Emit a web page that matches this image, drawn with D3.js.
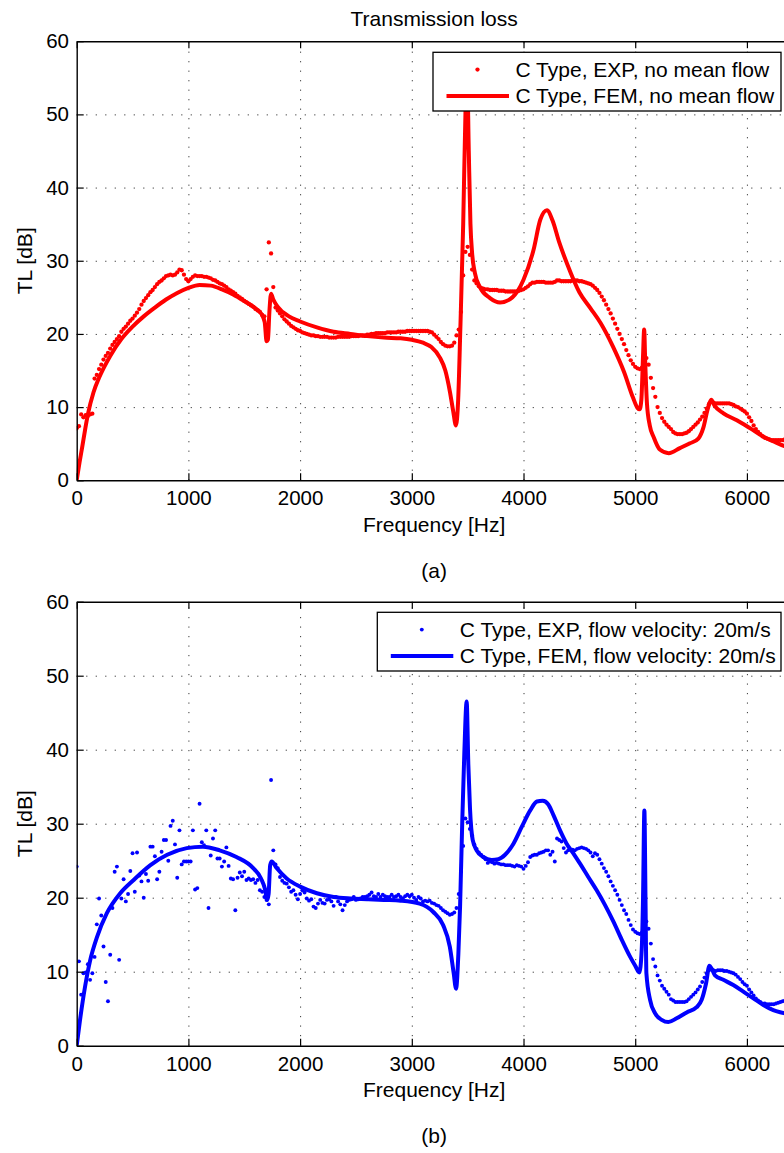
<!DOCTYPE html>
<html>
<head>
<meta charset="utf-8">
<script src="https://cdn.jsdelivr.net/npm/d3@7"></script>
<style>
  html, body { margin: 0; padding: 0; background: #fff; }
  svg { display: block; font-family: "Liberation Sans", Arial, Helvetica, sans-serif; }
</style>
</head>
<body>
<svg id="chart" width="784" height="1153"></svg>
<script>
// ---- axis ticks ----
const freqTicks = [0, 1000, 2000, 3000, 4000, 5000, 6000];
const tlTicks = [0, 10, 20, 30, 40, 50, 60];
const freqMax = 6400;

// ---- measured TL, one value per frequency bin (bin width expStep Hz, starting at 0 Hz) ----
const expStep = 20;
const expNoFlow = [
  7.1, 7.4, 9.0, 8.6, 8.9, 8.8, 9.0, 9.1, 13.9, 14.4,
  15.2, 15.8, 16.5, 17.0, 17.4, 18.0, 18.5, 18.9, 19.3, 19.7,
  20.3, 20.7, 21.0, 21.4, 21.8, 22.1, 22.5, 22.9, 23.4, 24.0,
  24.5, 24.9, 25.3, 25.7, 26.0, 26.4, 26.8, 27.1, 27.3, 27.6,
  27.9, 28.0, 28.1, 28.0, 28.1, 28.4, 28.8, 28.7, 28.1, 27.5,
  27.2, 27.5, 27.8, 28.0, 27.9, 27.9, 27.9, 27.8, 27.8, 27.7,
  27.6, 27.4, 27.3, 27.1, 26.9, 26.8, 26.6, 26.4, 26.1, 25.9,
  25.7, 25.5, 25.2, 25.0, 24.8, 24.5, 24.3, 24.1, 23.9, 23.7,
  23.4, 23.2, 23.0, 22.6, 22.4, 26.1, 32.5, 31.0, 26.4, 23.6,
  23.2, 22.8, 22.4, 22.0, 21.7, 21.4, 21.1, 20.9, 20.7, 20.5,
  20.4, 20.2, 20.1, 20.0, 19.9, 19.8, 19.8, 19.7, 19.7, 19.6,
  19.6, 19.6, 19.6, 19.5, 19.5, 19.5, 19.5, 19.6, 19.6, 19.6,
  19.6, 19.6, 19.6, 19.7, 19.7, 19.7, 19.7, 19.8, 19.8, 19.8,
  19.9, 19.9, 20.0, 20.0, 20.1, 20.1, 20.1, 20.1, 20.1, 20.2,
  20.2, 20.2, 20.2, 20.2, 20.3, 20.3, 20.3, 20.3, 20.4, 20.4,
  20.4, 20.4, 20.4, 20.4, 20.4, 20.4, 20.4, 20.4, 20.3, 20.2,
  19.9, 19.6, 19.3, 18.9, 18.6, 18.4, 18.3, 18.3, 18.4, 18.8,
  19.8, 20.6, 23.0, 28.0, 31.2, 31.9, 30.8, 28.8, 27.3, 26.9,
  26.5, 26.3, 26.2, 26.1, 26.1, 26.0, 26.0, 26.0, 26.0, 25.9,
  25.9, 25.9, 25.8, 25.8, 25.8, 25.8, 25.8, 25.8, 25.9, 26.0,
  26.1, 26.3, 26.5, 26.8, 27.0, 27.0, 27.1, 27.1, 27.1, 27.1,
  27.0, 27.0, 27.0, 27.0, 27.1, 27.3, 27.3, 27.2, 27.2, 27.2,
  27.2, 27.2, 27.3, 27.3, 27.3, 27.2, 27.2, 27.1, 27.0, 26.9,
  26.8, 26.6, 26.3, 26.0, 25.6, 25.1, 24.6, 24.0, 23.4, 22.8,
  22.1, 21.4, 20.7, 20.0, 19.3, 18.6, 17.8, 17.1, 16.4, 15.9,
  15.5, 15.3, 15.2, 15.4, 15.8, 16.7, 15.8, 14.0, 12.6, 11.4,
  10.0, 9.2, 8.5, 8.0, 7.6, 7.3, 7.0, 6.6, 6.4, 6.3,
  6.3, 6.3, 6.4, 6.5, 6.7, 7.0, 7.3, 7.6, 7.9, 8.3,
  8.7, 9.2, 9.8, 10.4, 10.7, 10.6, 10.5, 10.5, 10.5, 10.5,
  10.5, 10.5, 10.5, 10.4, 10.3, 10.1, 10.0, 9.8, 9.6, 9.4,
  9.1, 8.6, 8.1, 7.5, 7.0, 6.6, 6.3, 6.0, 5.8, 5.7,
  5.6, 5.5, 5.5, 5.5, 5.5, 5.5, 5.5, 5.6, 5.7, 5.8,
  5.9
];
const expFlow20 = [
  24.2, 11.4, 6.9, 9.8, 9.9, 11.0, 8.9, 9.8, 12.0, 16.4,
  19.9, 17.6, 13.4, 8.6, 6.0, 12.3, 18.6, 23.5, 24.2, 11.6,
  19.9, 22.5, 19.5, 20.5, 23.6, 26.0, 20.8, 26.1, 23.0, 22.2,
  20.0, 23.2, 22.3, 26.9, 26.9, 25.6, 22.5, 23.5, 26.2, 27.8,
  27.8, 25.0, 29.7, 30.4, 27.2, 22.7, 29.1, 24.5, 24.9, 24.9,
  24.9, 24.9, 29.1, 21.1, 21.3, 32.7, 27.5, 27.1, 29.1, 18.6,
  25.7, 28.0, 29.1, 25.3, 25.3, 24.2, 24.9, 26.8, 24.3, 22.6,
  22.5, 18.3, 22.7, 23.4, 22.9, 23.5, 22.4, 22.6, 22.4, 22.5,
  22.0, 22.4, 21.0, 20.8, 20.1, 19.7, 19.1, 35.9, 26.4, 24.5,
  24.0, 22.8, 22.3, 22.0, 21.9, 21.4, 20.8, 21.0, 20.4, 19.8,
  20.5, 21.0, 20.7, 19.9, 19.6, 19.8, 18.8, 18.6, 19.2, 19.7,
  19.3, 19.2, 19.7, 19.8, 19.5, 18.9, 20.1, 19.5, 19.1, 18.3,
  19.0, 19.5, 19.7, 19.8, 20.1, 19.7, 19.8, 19.9, 20.1, 20.1,
  20.2, 20.4, 20.7, 20.2, 20.1, 20.5, 20.1, 20.4, 20.2, 20.1,
  20.1, 20.4, 20.1, 20.2, 20.4, 20.1, 19.9, 20.2, 20.4, 20.2,
  20.4, 20.0, 19.7, 20.1, 19.9, 19.5, 19.6, 19.5, 19.6, 19.3,
  19.2, 19.0, 18.9, 18.6, 18.3, 18.1, 17.9, 17.7, 17.8, 18.0,
  18.6, 20.5, 23.5, 27.0, 30.7, 30.2, 29.3, 28.4, 27.2, 26.6,
  26.1, 25.8, 25.5, 25.2, 24.7, 24.9, 24.8, 24.6, 24.7, 24.6,
  24.5, 24.5, 24.4, 24.4, 24.4, 24.3, 24.2, 24.4, 24.3, 24.2,
  23.9, 24.3, 24.8, 25.5, 25.7, 25.8, 25.8, 26.0, 26.1, 26.2,
  26.4, 26.4, 25.8, 26.2, 24.9, 28.0, 27.8, 27.6, 26.7, 26.1,
  26.4, 26.5, 26.5, 26.4, 26.6, 26.7, 26.8, 26.7, 26.6, 26.4,
  26.1, 25.6, 26.0, 25.8, 25.2, 24.6, 24.0, 23.5, 22.9, 22.2,
  21.6, 21.0, 20.4, 19.7, 19.0, 18.3, 17.8, 17.0, 16.3, 15.7,
  15.4, 15.2, 15.1, 15.3, 15.9, 16.8, 15.8, 13.8, 11.7, 10.7,
  9.5, 8.8, 8.1, 7.7, 7.3, 6.9, 6.3, 6.1, 5.9, 5.9,
  5.9, 5.9, 5.9, 6.0, 6.3, 6.6, 6.9, 7.2, 7.6, 8.0,
  8.6, 9.2, 9.8, 10.2, 10.3, 10.2, 10.1, 10.2, 10.2, 10.2,
  10.1, 10.1, 10.0, 9.9, 9.8, 9.6, 9.3, 9.0, 8.6, 8.3,
  8.1, 7.6, 7.2, 6.8, 6.4, 6.1, 5.9, 5.7, 5.7, 5.6,
  5.6, 5.6, 5.6, 5.7, 5.8, 5.9, 6.0, 6.1, 6.2, 6.3,
  6.4
];

// ---- FEM prediction, no mean flow ----
const femFreqNoFlow = [
  0, 25, 50, 75, 100, 150, 200, 300, 400, 500, 600, 700, 800, 900, 1000, 1100, 1200,
  1300, 1400, 1500, 1600, 1655, 1683, 1700, 1712, 1725, 1740, 1760, 1800, 1900, 2000,
  2150, 2300, 2450, 2600, 2750, 2900, 3000, 3100, 3175, 3250, 3300, 3340, 3370, 3395,
  3415, 3435, 3460, 3480, 3495, 3510, 3525, 3540, 3565, 3610, 3700, 3790, 3900, 4000,
  4090, 4150, 4210, 4260, 4320, 4390, 4500, 4600, 4690, 4800, 4900, 4980, 5020, 5040,
  5055, 5070, 5080, 5090, 5105, 5130, 5165, 5220, 5300, 5400, 5490, 5565, 5610, 5650,
  5680, 5710, 5790, 5910, 6030, 6150, 6240, 6330, 6400
];
const femTLNoFlow = [
  0, 2.4, 4.6, 6.9, 9.0, 12.0, 14.0, 17.0, 19.3, 21.0, 22.4, 23.6, 24.7, 25.6, 26.3, 26.7, 26.6,
  26.1, 25.4, 24.5, 23.5, 22.7, 21.6, 19.0, 19.2, 23.0, 25.5, 24.7, 23.7, 22.4, 21.7,
  20.9, 20.3, 20.0, 19.7, 19.5, 19.4, 19.2, 18.8, 18.2, 16.8, 15.0, 12.2, 9.5, 7.5,
  11.0, 21.0, 35.0, 50.0, 56.0, 45.0, 35.0, 31.0, 28.3, 26.4, 24.9, 24.3, 25.0, 27.4,
  31.5, 35.6, 36.9, 35.5, 32.5, 29.6, 25.7, 23.5, 21.5, 18.3, 14.8, 11.3, 9.9, 9.7,
  11.0, 17.0, 20.6, 16.0, 10.5, 7.5, 5.9, 4.2, 3.7, 4.4, 5.05, 5.7, 7.2, 9.8,
  11.0, 10.2, 9.15, 8.2, 7.1, 5.95, 5.3, 4.7, 4.4
];

// ---- FEM prediction, flow velocity 20 m/s ----
const femFreqFlow20 = [
  0, 30, 75, 120, 180, 270, 390, 510, 660, 810, 985, 1130, 1280, 1430, 1580, 1650,
  1685, 1705, 1718, 1732, 1746, 1790, 1880, 2000, 2150, 2300, 2450, 2600, 2750, 2900,
  3070, 3190, 3280, 3340, 3375, 3396, 3417, 3432, 3452, 3470, 3491, 3506, 3521, 3545,
  3580, 3640, 3715, 3775, 3835, 3910, 3985, 4060, 4120, 4172, 4222, 4267, 4327, 4386,
  4446, 4506, 4580, 4655, 4730, 4804, 4880, 4955, 5000, 5037, 5058, 5070, 5082, 5092,
  5100, 5133, 5177, 5237, 5297, 5371, 5461, 5550, 5595, 5634, 5664, 5685, 5714, 5789,
  5878, 5968, 6058, 6147, 6236, 6332, 6400
];
const femTLFlow20 = [
  0, 3.5, 8.0, 11.5, 14.6, 17.9, 20.6, 22.4, 24.4, 25.8, 26.7, 26.9, 26.4, 25.5, 24.0, 22.6,
  21.2, 19.7, 20.5, 24.4, 24.9, 24.0, 22.6, 21.5, 20.6, 20.1, 19.9, 19.8, 19.7, 19.6,
  19.2, 18.1, 16.3, 13.4, 9.8, 7.7, 12.5, 18.8, 30.5, 39.5, 46.5, 38.0, 32.0, 27.8,
  26.4, 25.5, 25.1, 25.2, 25.8, 27.3, 29.6, 31.8, 33.0, 33.1, 32.6, 31.2, 29.1, 27.3,
  26.0, 24.6, 22.8, 21.0, 19.0, 16.8, 14.3, 12.0, 10.8, 9.9, 12.9, 20.0, 31.8, 20.0,
  9.8, 6.2, 4.4, 3.5, 3.2, 3.7, 4.5, 5.2, 6.2, 8.4, 10.8, 10.4, 9.5, 8.9,
  8.2, 7.3, 6.4, 5.5, 4.8, 4.4, 4.1
];

const panels = [
  {
    key: "a",
    yRange: [480.3, 41.2],
    exp: expNoFlow,
    femF: femFreqNoFlow,
    femT: femTLNoFlow,
    color: "#ff0000",
    dotR: 2.15,
    legendBox: [433, 52.3, 348, 58.7],
    legendText: ["C Type, EXP, no mean flow", "C Type, FEM, no mean flow"],
    caption: "(a)",
    captionY: 578
  },
  {
    key: "b",
    yRange: [1045.7, 601.7],
    exp: expFlow20,
    femF: femFreqFlow20,
    femT: femTLFlow20,
    color: "#0000ff",
    dotR: 1.95,
    legendBox: [377.3, 612.3, 403.7, 58.7],
    legendText: ["C Type, EXP, flow velocity: 20m/s", "C Type, FEM, flow velocity: 20m/s"],
    caption: "(b)",
    captionY: 1143
  }
];

const svg = d3.select("#chart");
svg.append("rect").attr("width", 784).attr("height", 1153).attr("fill", "#fff");

const xRange = [76.7, 791.6];
const tickFont = 20.5;
const labelFont = 21;
const intFormat = d3.format("d");

svg.append("text")
  .attr("x", (xRange[0] + xRange[1]) / 2)
  .attr("y", 26)
  .attr("text-anchor", "middle")
  .attr("font-size", labelFont)
  .attr("fill", "#000")
  .text("Transmission loss");

panels.forEach(p => {
  const x = d3.scaleLinear().domain([0, freqMax]).range(xRange);
  const y = d3.scaleLinear().domain([0, 60]).range(p.yRange);
  const top = y(60), bottom = y(0), left = x(0), right = x(freqMax);
  const g = svg.append("g").attr("class", "panel-" + p.key);

  // dotted grid
  const gridX = g.append("g")
    .attr("transform", `translate(0,${bottom})`)
    .call(d3.axisBottom(x).tickValues(freqTicks.slice(1)).tickSize(-(bottom - top)).tickFormat(""));
  const gridY = g.append("g")
    .attr("transform", `translate(${left},0)`)
    .call(d3.axisLeft(y).tickValues(tlTicks.slice(1, -1)).tickSize(-(right - left)).tickFormat(""));
  [gridX, gridY].forEach(gg => {
    gg.select(".domain").remove();
    gg.selectAll("line")
      .attr("stroke", "#3a3a3a")
      .attr("stroke-width", 1)
      .attr("stroke-dasharray", "1.2,8.3");
  });

  // data, clipped to the axes box
  const clipId = "clip-" + p.key;
  g.append("clipPath").attr("id", clipId)
    .append("rect").attr("x", left).attr("y", top).attr("width", right - left).attr("height", bottom - top);
  const data = g.append("g").attr("clip-path", `url(#${clipId})`);

  const femPts = p.femF.map((f, i) => [f, p.femT[i]]);
  const line = d3.line().x(d => x(d[0])).y(d => y(d[1])).curve(d3.curveMonotoneX);
  data.append("path")
    .datum(femPts)
    .attr("d", line)
    .attr("fill", "none")
    .attr("stroke", p.color)
    .attr("stroke-width", 4)
    .attr("stroke-linejoin", "round")
    .attr("stroke-linecap", "round");

  data.append("g").selectAll("circle")
    .data(p.exp.map((v, i) => ({ f: i * expStep, tl: v })))
    .join("circle")
    .attr("cx", d => x(d.f))
    .attr("cy", d => y(d.tl))
    .attr("r", p.dotR)
    .attr("fill", p.color);

  // axes with inward ticks
  const tickLen = 7;
  const axB = g.append("g").attr("transform", `translate(0,${bottom})`)
    .call(d3.axisBottom(x).tickValues(freqTicks).tickFormat(intFormat)
      .tickSizeInner(-tickLen).tickSizeOuter(0).tickPadding(10.6));
  const axT = g.append("g").attr("transform", `translate(0,${top})`)
    .call(d3.axisTop(x).tickValues(freqTicks).tickSizeInner(-tickLen).tickSizeOuter(0).tickFormat(""));
  const axL = g.append("g").attr("transform", `translate(${left},0)`)
    .call(d3.axisLeft(y).tickValues(tlTicks).tickFormat(intFormat)
      .tickSizeInner(-tickLen).tickSizeOuter(0).tickPadding(7.7));
  const axR = g.append("g").attr("transform", `translate(${right},0)`)
    .call(d3.axisRight(y).tickValues(tlTicks).tickSizeInner(-tickLen).tickSizeOuter(0).tickFormat(""));
  [axB, axT, axL, axR].forEach(a => {
    a.attr("font-family", null).attr("font-size", tickFont);
    a.select(".domain").attr("stroke", "#000").attr("stroke-width", 1.4);
    a.selectAll(".tick line").attr("stroke", "#000").attr("stroke-width", 1.2);
    a.selectAll(".tick text").attr("fill", "#000");
  });

  // axis titles
  g.append("text")
    .attr("x", (left + right) / 2)
    .attr("y", bottom + 51.4)
    .attr("text-anchor", "middle")
    .attr("font-size", labelFont)
    .attr("fill", "#000")
    .text("Frequency [Hz]");
  g.append("text")
    .attr("transform", `translate(31.7,${(top + bottom) / 2}) rotate(-90)`)
    .attr("text-anchor", "middle")
    .attr("font-size", labelFont)
    .attr("fill", "#000")
    .text("TL [dB]");

  // legend
  const [lx, ly, lw, lh] = p.legendBox;
  const lg = g.append("g").attr("transform", `translate(${lx},${ly})`);
  lg.append("rect")
    .attr("width", lw).attr("height", lh)
    .attr("fill", "#fff").attr("stroke", "#000").attr("stroke-width", 1.3);
  lg.append("circle").attr("cx", 44.5).attr("cy", 17.3).attr("r", p.dotR).attr("fill", p.color);
  lg.append("line").attr("x1", 13.5).attr("x2", 76).attr("y1", 43.6).attr("y2", 43.6)
    .attr("stroke", p.color).attr("stroke-width", 4);
  lg.selectAll("text").data(p.legendText).join("text")
    .attr("x", 82.5)
    .attr("y", (d, i) => 24.6 + i * 26.3)
    .attr("font-size", labelFont)
    .attr("fill", "#000")
    .text(d => d);

  // panel caption
  g.append("text")
    .attr("x", (left + right) / 2)
    .attr("y", p.captionY)
    .attr("text-anchor", "middle")
    .attr("font-size", labelFont)
    .attr("fill", "#000")
    .text(p.caption);
});
</script>
</body>
</html>
